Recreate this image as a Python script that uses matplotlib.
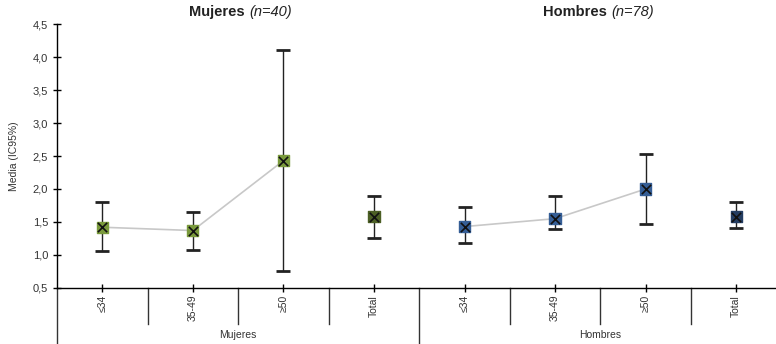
import numpy as np
import matplotlib.pyplot as plt
from matplotlib.ticker import FuncFormatter

plt.rcParams["font.family"] = ["Liberation Sans", "DejaVu Sans"]

# datos: media e IC95% por grupo de edad
edades = ["≤34", "35-49", "≥50", "Total"]
grupos = ["Mujeres", "Hombres"]
n_grupo = [40, 78]

muj_media = [1.42, 1.37, 2.43, 1.58]
muj_inf = [1.06, 1.08, 0.75, 1.25]
muj_sup = [1.80, 1.65, 4.10, 1.90]

hom_media = [1.43, 1.55, 2.00, 1.58]
hom_inf = [1.18, 1.39, 1.47, 1.41]
hom_sup = [1.73, 1.89, 2.53, 1.81]

col_muj = ["#7a9a3c", "#7a9a3c", "#7a9a3c", "#4c5f25"]
col_hom = ["#355e96", "#355e96", "#355e96", "#243d62"]

fig = plt.figure(figsize=(7.76, 3.44), dpi=100)
ax = fig.add_axes([0.0735, 0.163, 0.9265, 0.767])

series = [(muj_media, muj_inf, muj_sup, col_muj), (hom_media, hom_inf, hom_sup, col_hom)]
for g, (media, inf, sup, cols) in enumerate(series):
    x = np.arange(4) + 4 * g
    media = np.array(media)
    err = [media - np.array(inf), np.array(sup) - media]
    ax.plot(x[:3], media[:3], color="#c8c8c8", lw=1.2, zorder=1)
    ax.errorbar(x, media, yerr=err, fmt="none", ecolor="#222222", elinewidth=1,
                capsize=5, capthick=2, zorder=2)
    ax.scatter(x, media, marker="s", s=65, c=cols, zorder=3)
    ax.scatter(x, media, marker="x", s=45, c="#111111", linewidths=1.2, zorder=4)

ax.set_xlim(-0.5, 7.44)
ax.set_ylim(0.5, 4.5)
ax.set_yticks(np.arange(0.5, 4.51, 0.5))
ax.yaxis.set_major_formatter(FuncFormatter(lambda v, p: f"{v:.1f}".replace(".", ",")))
ax.tick_params(axis="y", direction="inout", length=6, labelsize=8, labelcolor="#333333", width=1)
ax.set_xticks(np.arange(8))
ax.set_xticklabels(edades * 2, rotation=90, fontsize=7.5, color="#333333")
ax.tick_params(axis="x", direction="inout", length=6, width=1, pad=2)
for s in ["top", "right"]:
    ax.spines[s].set_visible(False)
ax.spines["left"].set_linewidth(1)
ax.spines["bottom"].set_linewidth(1)
ax.set_ylabel("Media (IC95%)", fontsize=7.5, color="#333333", labelpad=10)

tr = ax.get_xaxis_transform()
# separadores de categorías
for xs in np.arange(0.5, 7.5, 1):
    if xs == 3.5:
        continue
    ax.plot([xs, xs], [0, -0.135], transform=tr, color="#333333", lw=1, clip_on=False)
for xs in [-0.5, 3.5]:
    ax.plot([xs, xs], [0, -0.215], transform=tr, color="#333333", lw=1, clip_on=False)

for g, nombre in enumerate(grupos):
    xc = 1.5 + 4 * g
    ax.text(xc, -0.178, nombre, transform=tr, ha="center", va="center", fontsize=7.5, color="#333333")
    ax.text(xc + 0.12, 1.02, nombre + " ", transform=tr, ha="right", va="bottom",
            fontsize=10.5, fontweight="bold", color="#222222")
    ax.text(xc + 0.12, 1.02, f"(n={n_grupo[g]})", transform=tr, ha="left", va="bottom",
            fontsize=10.5, style="italic", color="#222222")

fig.savefig("out.png", dpi=100)
